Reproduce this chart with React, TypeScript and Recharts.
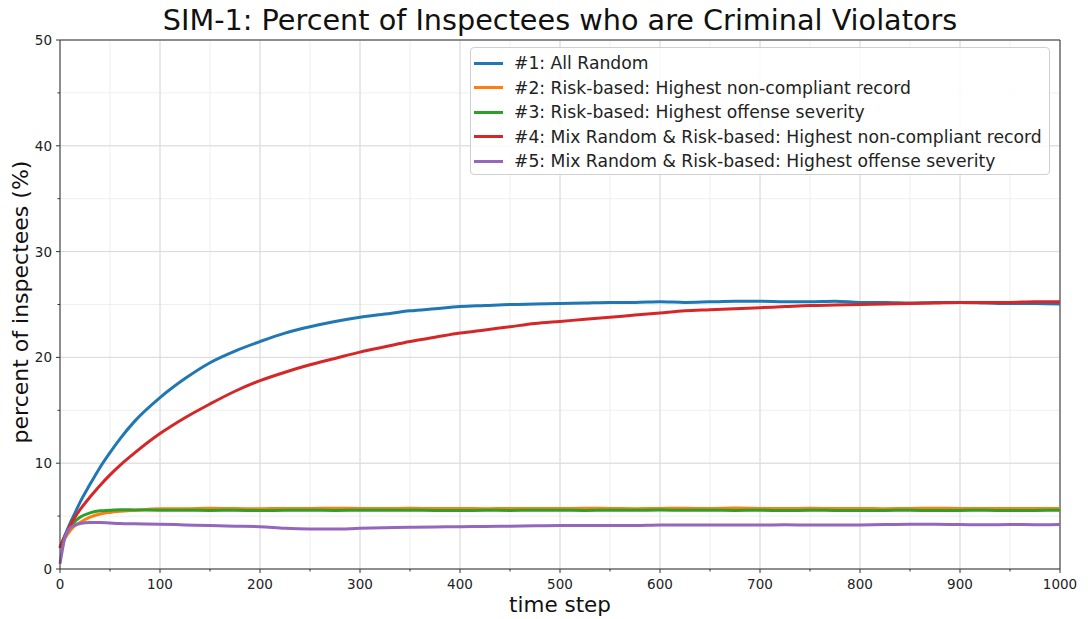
import React from "react";
import {
  CartesianGrid,
  Legend,
  Line,
  LineChart,
  ReferenceLine,
  XAxis,
  YAxis,
} from "recharts";

document.body.style.margin = "0";

const FONT = "'DejaVu Sans', sans-serif";

// time steps sampled from the simulation run
const steps = [
  0, 5, 10, 15, 20, 30, 40, 50, 60, 75,
  100, 125, 150, 175, 200, 225, 250, 275, 300, 325, 350, 375, 400, 425, 450,
  475, 500, 525, 550, 575, 600, 625, 650, 675, 700, 725, 750, 775, 800, 825,
  850, 875, 900, 925, 950, 975, 1000,
];

const allRandom = [
  2.0, 3.2, 4.3, 5.3, 6.3, 8.0, 9.6, 11.0, 12.3, 14.0,
  16.2, 18.0, 19.5, 20.6, 21.5, 22.3, 22.9, 23.4, 23.8, 24.1, 24.4, 24.6, 24.8, 24.9, 25.0,
  25.05, 25.1, 25.15, 25.2, 25.2, 25.25, 25.2, 25.25, 25.3, 25.3, 25.25, 25.25, 25.3, 25.2, 25.2,
  25.15, 25.2, 25.2, 25.15, 25.1, 25.1, 25.05,
];

const riskRecord = [
  2.0, 2.9, 3.6, 4.1, 4.4, 4.9, 5.2, 5.35, 5.45, 5.55,
  5.7, 5.7, 5.74, 5.71, 5.7, 5.73, 5.72, 5.75, 5.73, 5.72, 5.74, 5.71, 5.72, 5.7, 5.73,
  5.72, 5.71, 5.74, 5.72, 5.7, 5.72, 5.74, 5.72, 5.76, 5.73, 5.71, 5.74, 5.72, 5.73, 5.7,
  5.72, 5.74, 5.72, 5.71, 5.73, 5.72, 5.73,
];

const riskSeverity = [
  2.0, 3.1, 3.9, 4.5, 4.9, 5.3, 5.5, 5.55, 5.6, 5.58,
  5.56, 5.55, 5.54, 5.55, 5.53, 5.55, 5.56, 5.54, 5.55, 5.56, 5.55, 5.54, 5.53, 5.55, 5.54,
  5.56, 5.55, 5.54, 5.56, 5.55, 5.57, 5.55, 5.56, 5.54, 5.55, 5.53, 5.55, 5.54, 5.52, 5.54,
  5.55, 5.53, 5.54, 5.55, 5.53, 5.54, 5.55,
];

const mixRecord = [
  2.0, 3.1, 4.1, 4.9, 5.6, 6.8, 7.9, 8.9, 9.8, 11.0,
  12.8, 14.3, 15.6, 16.8, 17.8, 18.6, 19.3, 19.9, 20.5, 21.0, 21.5, 21.9, 22.3, 22.6, 22.9,
  23.2, 23.4, 23.6, 23.8, 24.0, 24.2, 24.4, 24.5, 24.6, 24.7, 24.8, 24.9, 24.95, 25.0, 25.05,
  25.1, 25.15, 25.2, 25.2, 25.2, 25.25, 25.25,
];

const mixSeverity = [
  0.5, 3.0, 3.9, 4.15, 4.3, 4.4, 4.4, 4.35, 4.3, 4.27,
  4.24, 4.17, 4.1, 4.05, 4.0, 3.85, 3.78, 3.77, 3.85, 3.9, 3.95, 3.98, 4.0, 4.02, 4.05,
  4.08, 4.1, 4.1, 4.12, 4.1, 4.15, 4.15, 4.17, 4.15, 4.15, 4.18, 4.16, 4.15, 4.17, 4.2,
  4.22, 4.23, 4.2, 4.18, 4.2, 4.19, 4.2,
];

const series = [
  { key: "s1", name: "#1: All Random", color: "#1f77b4", values: allRandom },
  { key: "s2", name: "#2: Risk-based: Highest non-compliant record", color: "#ff7f0e", values: riskRecord },
  { key: "s3", name: "#3: Risk-based: Highest offense severity", color: "#2ca02c", values: riskSeverity },
  { key: "s4", name: "#4: Mix Random & Risk-based: Highest non-compliant record", color: "#d62728", values: mixRecord },
  { key: "s5", name: "#5: Mix Random & Risk-based: Highest offense severity", color: "#9467bd", values: mixSeverity },
];

const xMajor = [0, 100, 200, 300, 400, 500, 600, 700, 800, 900, 1000];
const xMinor = [0, 50, 100, 150, 200, 250, 300, 350, 400, 450, 500, 550, 600, 650, 700, 750, 800, 850, 900, 950, 1000];
const yMajor = [0, 10, 20, 30, 40, 50];
const yMinor = [0, 5, 10, 15, 20, 25, 30, 35, 40, 45, 50];

const data = steps.map((t, i) => {
  const row: Record<string, number> = { t };
  series.forEach((s) => {
    row[s.key] = s.values[i];
  });
  return row;
});

const TICK = 4;
const GAP = 4;

const XTick = (props: any) => {
  const { x, y, payload } = props;
  const v = Number(payload.value);
  const major = v % 100 === 0;
  const axisY = y - TICK - GAP;
  return (
    <g>
      <line x1={x} x2={x} y1={axisY} y2={axisY + (major ? 4 : 2.5)} stroke="#333" />
      {major && (
        <text x={x} y={axisY + 20} textAnchor="middle" fontSize={13.5} fill="#222" fontFamily={FONT}>
          {v}
        </text>
      )}
    </g>
  );
};

const YTick = (props: any) => {
  const { x, y, payload } = props;
  const v = Number(payload.value);
  const major = v % 10 === 0;
  const axisX = x + TICK + GAP;
  return (
    <g>
      <line x1={axisX} x2={axisX - (major ? 4 : 2.5)} y1={y} y2={y} stroke="#333" />
      {major && (
        <text x={axisX - 8} y={y + 5} textAnchor="end" fontSize={13.5} fill="#222" fontFamily={FONT}>
          {v}
        </text>
      )}
    </g>
  );
};

const LegendBox = () => (
  <div
    style={{
      width: 580,
      height: 128,
      boxSizing: "border-box",
      border: "1px solid #d0d0d0",
      borderRadius: 4,
      background: "rgba(255,255,255,0.85)",
      padding: "3px 0 0 3px",
      fontFamily: FONT,
      fontSize: 17.2,
      color: "#222",
    }}
  >
    {series.map((s) => (
      <div key={s.key} style={{ display: "flex", alignItems: "center", height: 24.5 }}>
        <span style={{ width: 29, height: 3, background: s.color, marginRight: 11 }} />
        <span>{s.name}</span>
      </div>
    ))}
  </div>
);

export default function App() {
  return (
    <div style={{ position: "relative", width: 1088, height: 619, background: "#fff" }}>
      <div
        style={{
          position: "absolute",
          top: 2,
          left: 60,
          width: 1000,
          textAlign: "center",
          fontFamily: FONT,
          fontSize: 28.7,
          lineHeight: "36px",
          color: "#111",
        }}
      >
        SIM-1: Percent of Inspectees who are Criminal Violators
      </div>
      <LineChart
        width={1088}
        height={619}
        data={data}
        margin={{ top: 40, right: 28, bottom: 20, left: 0 }}
      >
        <CartesianGrid stroke="#efefef" verticalValues={xMinor} horizontalValues={yMinor} />
        <CartesianGrid stroke="#dadada" verticalValues={xMajor} horizontalValues={yMajor} />
        <XAxis
          dataKey="t"
          type="number"
          domain={[0, 1000]}
          ticks={xMinor}
          interval={0}
          height={30}
          tickSize={TICK}
          tickMargin={GAP}
          tickLine={false}
          tick={<XTick />}
          stroke="#333"
        />
        <YAxis
          type="number"
          domain={[0, 50]}
          ticks={yMinor}
          interval={0}
          width={60}
          tickSize={TICK}
          tickMargin={GAP}
          tickLine={false}
          tick={<YTick />}
          stroke="#333"
        />
        <ReferenceLine y={50} stroke="#333" />
        <ReferenceLine x={1000} stroke="#333" />
        {series.map((s) => (
          <Line
            key={s.key}
            type="monotone"
            dataKey={s.key}
            name={s.name}
            stroke={s.color}
            strokeWidth={3}
            dot={false}
            isAnimationActive={false}
          />
        ))}
        <Legend
          layout="vertical"
          align="center"
          verticalAlign="middle"
          content={<LegendBox />}
          wrapperStyle={{ top: 47, left: 470, width: 580 }}
        />
      </LineChart>
      <div
        style={{
          position: "absolute",
          top: 592,
          left: 60,
          width: 1000,
          textAlign: "center",
          fontFamily: FONT,
          fontSize: 21.5,
          lineHeight: "26px",
          color: "#111",
        }}
      >
        time step
      </div>
      <div
        style={{
          position: "absolute",
          left: 20,
          top: 302,
          transform: "translate(-50%, -50%) rotate(-90deg)",
          whiteSpace: "nowrap",
          fontFamily: FONT,
          fontSize: 22,
          color: "#111",
        }}
      >
        percent of inspectees (%)
      </div>
    </div>
  );
}
